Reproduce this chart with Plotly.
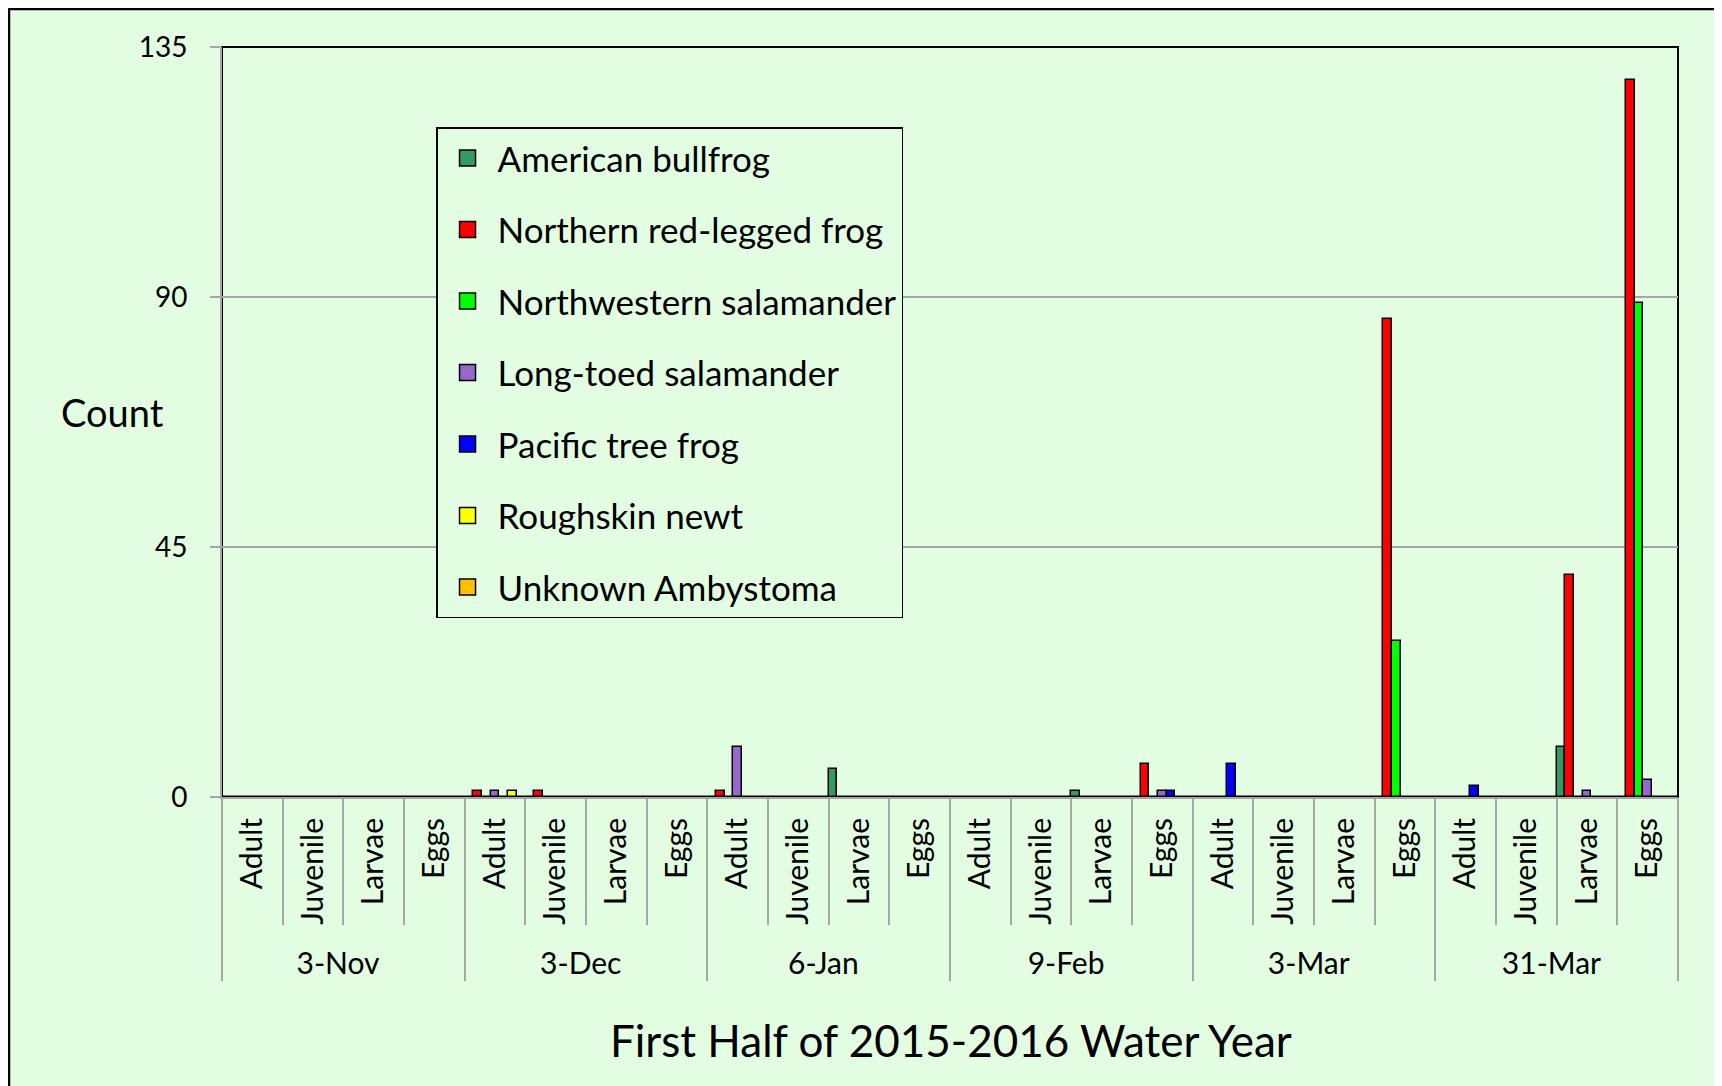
"""Amphibian survey counts, first half of the 2015-2016 water year."""

import plotly.graph_objects as go

BG = "#E3FDE3"
GRID = "#A6A6A6"
FONT = "Lato, 'Open Sans', sans-serif"

# Survey dates (outer category) and life stages (inner category).
DATES = ["3-Nov", "3-Dec", "6-Jan", "9-Feb", "3-Mar", "31-Mar"]
STAGES = ["Adult", "Juvenile", "Larvae", "Eggs"]

SPECIES = [
    "American bullfrog",
    "Northern red-legged frog",
    "Northwestern salamander",
    "Long-toed salamander",
    "Pacific tree frog",
    "Roughskin newt",
    "Unknown Ambystoma",
]
COLORS = ["#339966", "#FF0000", "#00FF00", "#9966CC", "#0000FF", "#FFFF00", "#FFC000"]

# Counts per (date, stage): 3-Nov A J L E | 3-Dec ... | 31-Mar A J L E
bullfrog = [0, 0, 0, 0, 0, 0, 0, 0, 0, 0, 5, 0, 0, 0, 1, 0, 0, 0, 0, 0, 0, 0, 9, 0]
red_legged = [0, 0, 0, 0, 1, 1, 0, 0, 1, 0, 0, 0, 0, 0, 0, 6, 0, 0, 0, 86, 0, 0, 40, 129]
nw_salamander = [0, 0, 0, 0, 0, 0, 0, 0, 0, 0, 0, 0, 0, 0, 0, 0, 0, 0, 0, 28, 0, 0, 0, 89]
long_toed = [0, 0, 0, 0, 1, 0, 0, 0, 9, 0, 0, 0, 0, 0, 0, 1, 0, 0, 0, 0, 0, 0, 1, 3]
tree_frog = [0, 0, 0, 0, 0, 0, 0, 0, 0, 0, 0, 0, 0, 0, 0, 1, 6, 0, 0, 0, 2, 0, 0, 0]
newt = [0, 0, 0, 0, 1, 0, 0, 0, 0, 0, 0, 0, 0, 0, 0, 0, 0, 0, 0, 0, 0, 0, 0, 0]
ambystoma = [0] * 24

SERIES = [bullfrog, red_legged, nw_salamander, long_toed, tree_frog, newt, ambystoma]

x_outer = [d for d in DATES for _ in STAGES]
x_inner = [s for _ in DATES for s in STAGES]

fig = go.Figure()
for name, vals, color in zip(SPECIES, SERIES, COLORS):
    fig.add_trace(go.Bar(
        x=[x_outer, x_inner], y=vals, name=name, showlegend=False,
        marker=dict(color=color, line=dict(color="#000000", width=1.5)),
    ))

# Legend proxies: bigger square swatches than the bar legend symbol allows.
for i, (name, color) in enumerate(zip(SPECIES, COLORS)):
    fig.add_trace(go.Scatter(
        x=[None], y=[None], mode="markers", name=name, legendgroup=f"g{i}",
        xaxis="x2", yaxis="y2",
        marker=dict(symbol="square", size=16, color=color,
                    line=dict(color="#000000", width=1.5)),
    ))

fig.update_layout(
    width=1722, height=1086,
    paper_bgcolor=BG, plot_bgcolor=BG,
    font=dict(family=FONT, color="#000000"),
    margin=dict(l=214, r=52, t=39, b=297),
    barmode="group", bargap=0.0, bargroupgap=0.0,
    showlegend=True,
    legend=dict(
        x=0.147, y=0.893, xanchor="left", yanchor="top",
        bgcolor=BG, bordercolor="#000000", borderwidth=1.5,
        font=dict(size=35, family=FONT), traceorder="grouped",
        tracegroupgap=23, itemwidth=50, entrywidth=420,
    ),
    xaxis=dict(
        type="multicategory",
        tickangle=-90,
        tickfont=dict(size=30, family=FONT),
        ticklabelstandoff=7,
        showline=True, linecolor=GRID, linewidth=2,
        ticks="outside", tickson="boundaries", ticklen=126,
        tickcolor=GRID, tickwidth=2,
        showdividers=True, dividercolor=GRID, dividerwidth=2,
        showgrid=False,
    ),
    yaxis=dict(
        range=[0, 135], tickvals=[0, 45, 90, 135],
        tickfont=dict(size=28, family=FONT),
        showgrid=True, gridcolor=GRID, gridwidth=1.5,
        showline=True, linecolor=GRID, linewidth=2,
        ticks="outside", ticklen=10, tickcolor=GRID, tickwidth=2,
        ticklabelstandoff=17, zeroline=False,
    ),
    xaxis2=dict(visible=False, overlaying="x"),
    yaxis2=dict(visible=False, overlaying="y"),
)

# Plot-area frame and the chart's outer border.
fig.add_shape(type="rect", xref="paper", yref="paper", x0=0, x1=1, y0=0, y1=1,
              line=dict(color="#000000", width=2), layer="below")
fig.add_shape(type="rect", xref="paper", yref="paper", x0=-0.1463, x1=1.2,
              y0=-1.0, y1=1.0507, line=dict(color="#000000", width=2.5))

fig.add_annotation(text="Count", xref="paper", yref="paper", x=-0.0755, y=0.513,
                   xanchor="center", yanchor="middle", showarrow=False,
                   font=dict(size=38, family=FONT))
fig.add_annotation(text="First Half of 2015-2016 Water Year", xref="paper",
                   yref="paper", x=0.501, y=-0.324, xanchor="center",
                   yanchor="middle", showarrow=False,
                   font=dict(size=44, family=FONT))

fig.write_html("out.html")
